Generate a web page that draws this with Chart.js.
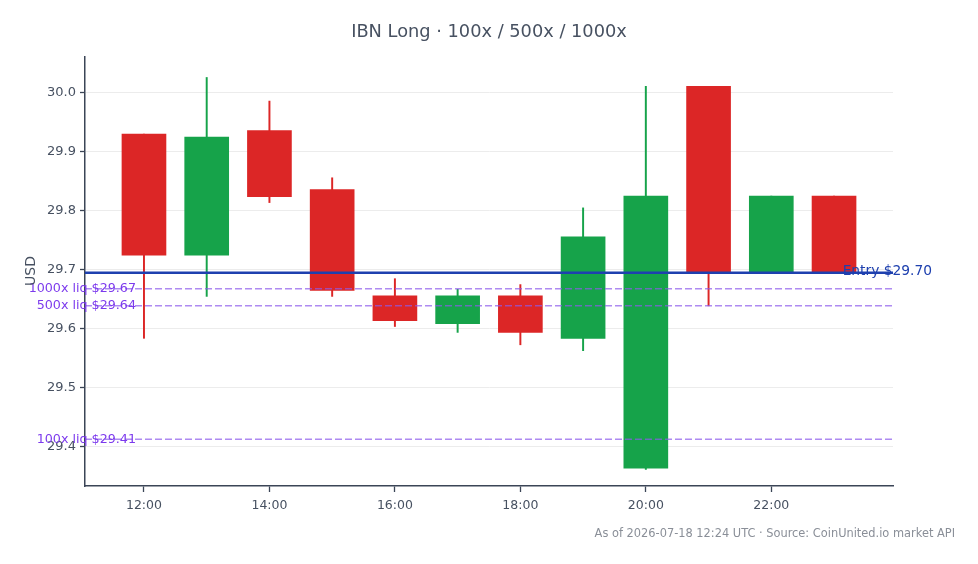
<!DOCTYPE html>
<html>
<head>
<meta charset="utf-8">
<title>IBN Long</title>
<script src="https://cdn.jsdelivr.net/npm/chart.js@4.4.1/dist/chart.umd.min.js"></script>
<style>
  html, body { margin: 0; padding: 0; background: #fff; }
  #wrap { width: 978px; height: 564px; position: relative; }
</style>
</head>
<body>
<div id="wrap"><canvas id="chart"></canvas></div>
<script>
// hourly candles, hour of day
const hours = [12, 13, 14, 15, 16, 17, 18, 19, 20, 21, 22, 23];
const open  = [29.930, 29.725, 29.936, 29.836, 29.656, 29.609, 29.656, 29.584, 29.364, 30.011, 29.697, 29.825];
const high  = [29.930, 30.026, 29.986, 29.856, 29.685, 29.667, 29.675, 29.805, 30.011, 30.011, 29.825, 29.825];
const low   = [29.584, 29.655, 29.814, 29.655, 29.604, 29.594, 29.573, 29.563, 29.362, 29.639, 29.697, 29.697];
const close = [29.725, 29.925, 29.824, 29.665, 29.614, 29.656, 29.594, 29.756, 29.825, 29.697, 29.825, 29.697];

const entryPrice = 29.695;
const liqLabels = ["1000x liq $29.67", "500x liq $29.64", "100x liq $29.41"];
const liqPrices = [29.668, 29.639, 29.413];

const xTicks = [12, 14, 16, 18, 20, 22];
const yTicks = [29.4, 29.5, 29.6, 29.7, 29.8, 29.9, 30.0];

const UP = "#16a34a";
const DOWN = "#dc2626";
const candleColors = hours.map((h, i) => (close[i] >= open[i] ? UP : DOWN));

// draws title, footer, axis title, entry and liquidation lines
const overlay = {
  id: "overlay",
  afterDatasetsDraw(chart) {
    const { ctx, chartArea } = chart;
    const y = chart.scales.y;
    ctx.save();

    // liquidation lines
    ctx.setLineDash([7, 3]);
    ctx.lineWidth = 1.5;
    ctx.strokeStyle = "rgba(140, 90, 235, 0.7)";
    liqPrices.forEach((p) => {
      const py = y.getPixelForValue(p);
      ctx.beginPath();
      ctx.moveTo(chartArea.left, py);
      ctx.lineTo(chartArea.right, py);
      ctx.stroke();
    });
    ctx.setLineDash([]);

    // entry line
    const ey = y.getPixelForValue(entryPrice);
    ctx.strokeStyle = "#1e40af";
    ctx.lineWidth = 2.5;
    ctx.beginPath();
    ctx.moveTo(chartArea.left, ey);
    ctx.lineTo(chartArea.right, ey);
    ctx.stroke();

    ctx.textBaseline = "middle";
    ctx.fillStyle = "#1e40af";
    ctx.textAlign = "right";
    ctx.font = "13.8px 'DejaVu Sans', sans-serif";
    ctx.fillText("Entry $29.70", 932, ey - 1);

    ctx.fillStyle = "#7c3aed";
    ctx.font = "12.7px 'DejaVu Sans', sans-serif";
    liqPrices.forEach((p, i) => {
      ctx.fillText(liqLabels[i], 136, y.getPixelForValue(p));
    });

    // title
    ctx.fillStyle = "#475161";
    ctx.textAlign = "center";
    ctx.font = "17.8px 'DejaVu Sans', sans-serif";
    ctx.fillText("IBN Long · 100x / 500x / 1000x", 489, 32);

    // footer
    ctx.fillStyle = "#8a8f98";
    ctx.textAlign = "right";
    ctx.font = "11.4px 'DejaVu Sans', sans-serif";
    ctx.fillText("As of 2026-07-18 12:24 UTC · Source: CoinUnited.io market API", 955, 534);

    // y axis title
    ctx.fillStyle = "#475161";
    ctx.font = "14px 'DejaVu Sans', sans-serif";
    ctx.translate(31, 271);
    ctx.rotate(-Math.PI / 2);
    ctx.textAlign = "center";
    ctx.fillText("USD", 0, 0);
    ctx.restore();
  },
};

new Chart(document.getElementById("chart"), {
  type: "bar",
  data: {
    datasets: [
      {
        label: "body",
        data: hours.map((h, i) => ({ x: h, y: [open[i], close[i]] })),
        backgroundColor: candleColors,
        barThickness: 44,
        borderWidth: 0,
        borderSkipped: false,
        grouped: false,
        order: 1,
      },
      {
        label: "wick",
        data: hours.map((h, i) => ({ x: h, y: [low[i], high[i]] })),
        backgroundColor: candleColors,
        barThickness: 1.3,
        borderWidth: 0,
        borderSkipped: false,
        grouped: false,
        order: 2,
      },
    ],
  },
  options: {
    responsive: true,
    maintainAspectRatio: false,
    animation: false,
    layout: { padding: { top: 57, right: 85, left: 0, bottom: 0 } },
    plugins: {
      legend: { display: false },
      tooltip: { enabled: false },
    },
    scales: {
      x: {
        type: "linear",
        offset: false,
        min: 11.06,
        max: 23.94,
        afterBuildTicks: (s) => { s.ticks = xTicks.map((v) => ({ value: v })); },
        afterFit: (s) => { s.height = 78; },
        grid: { offset: false, drawOnChartArea: false, drawTicks: true, tickLength: 6, tickColor: "#3b4556", tickWidth: 1.3 },
        border: { color: "#3b4556", width: 1.5 },
        ticks: {
          color: "#475161",
          font: { size: 12.5, family: "'DejaVu Sans', sans-serif" },
          padding: 6,
          maxRotation: 0,
          autoSkip: false,
          callback: (v) => String(v).padStart(2, "0") + ":00",
        },
      },
      y: {
        min: 29.3337,
        max: 30.0607,
        afterBuildTicks: (s) => { s.ticks = yTicks.map((v) => ({ value: v })); },
        afterFit: (s) => { s.width = 85; },
        grid: { color: "#ececec", tickLength: 5, tickColor: "#3b4556", tickWidth: 1.3 },
        border: { color: "#3b4556", width: 1.5 },
        ticks: {
          color: "#475161",
          font: { size: 13, family: "'DejaVu Sans', sans-serif" },
          padding: 4,
          callback: (v) => v.toFixed(1),
        },
      },
    },
  },
  plugins: [overlay],
});
</script>
</body>
</html>
